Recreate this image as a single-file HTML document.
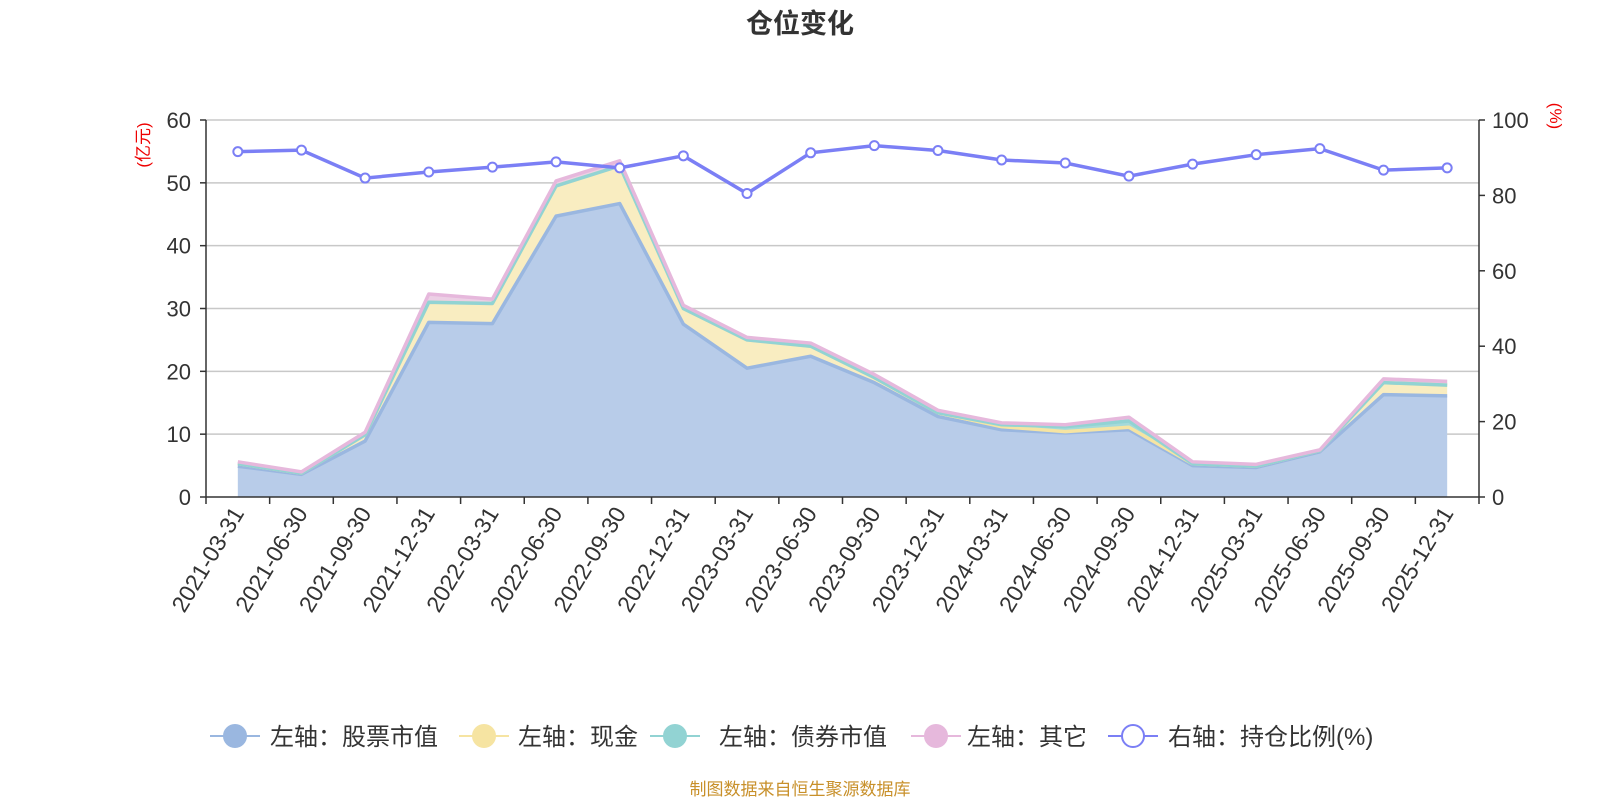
<!DOCTYPE html>
<html><head><meta charset="utf-8"><style>
body{margin:0;background:#fff;width:1600px;height:800px;overflow:hidden;font-family:"Liberation Sans","Noto Sans CJK SC",sans-serif}
</style></head><body>
<svg id="chart" width="1600" height="800" xmlns="http://www.w3.org/2000/svg" font-family="Liberation Sans, Noto Sans CJK SC, sans-serif">
<text x="800" y="33" text-anchor="middle" font-size="27" font-weight="bold" fill="#333">仓位变化</text>
<text transform="translate(149,145) rotate(-90)" text-anchor="middle" font-size="17" fill="#e00">(亿元)</text>
<text transform="translate(1550,116) rotate(90)" text-anchor="middle" font-size="17" fill="#e00">(%)</text>
<g id="grid"></g><g id="areas"></g><g id="arealines"></g><g id="axes"></g><g id="ratio"></g><g id="legend"></g>
<text x="800" y="795" text-anchor="middle" font-size="17" fill="#c8902a">制图数据来自恒生聚源数据库</text>
</svg>
<script>
const categories=["2021-03-31","2021-06-30","2021-09-30","2021-12-31","2022-03-31","2022-06-30","2022-09-30","2022-12-31","2023-03-31","2023-06-30","2023-09-30","2023-12-31","2024-03-31","2024-06-30","2024-09-30","2024-12-31","2025-03-31","2025-06-30","2025-09-30","2025-12-31"];
const stockValues=[4.9,3.6,8.9,27.8,27.6,44.7,46.7,27.5,20.5,22.4,18.2,12.8,10.7,10.2,10.7,5.0,4.7,7.2,16.3,16.1];
const cashValues=[0.4,0.2,1.0,3.2,3.2,4.8,6.0,2.5,4.5,1.6,0.8,0.6,0.5,0.2,0.4,0.3,0.2,0.2,1.9,1.7];
const bondValues=[0,0,0,0,0,0,0,0,0,0,0,0,0.3,0.8,1.0,0,0,0,0,0];
const otherValues=[0.3,0.2,0.4,1.3,0.7,0.8,0.8,0.5,0.4,0.5,0.5,0.4,0.3,0.3,0.6,0.3,0.3,0.1,0.6,0.6];
const ratioValues=[91.6,92.0,84.6,86.2,87.5,88.9,87.3,90.5,80.5,91.3,93.2,91.9,89.4,88.6,85.1,88.3,90.8,92.4,86.7,87.3];
const leftTicks=[0,10,20,30,40,50,60];
const rightTicks=[0,20,40,60,80,100];
const NS="http://www.w3.org/2000/svg";
const X0=206,X1=1479,Y0=497,Y1=120;
const bw=(X1-X0)/categories.length;
const xs=i=>X0+bw*(i+0.5);
const yL=v=>Y0-(v/60)*(Y0-Y1);
const yR=v=>Y0-(v/100)*(Y0-Y1);
function mk(tag,attrs,parent){const e=document.createElementNS(NS,tag);for(const k in attrs)e.setAttribute(k,attrs[k]);parent.appendChild(e);return e;}
const grid=document.getElementById('grid'),axes=document.getElementById('axes'),areas=document.getElementById('areas'),arealines=document.getElementById('arealines'),ratio=document.getElementById('ratio'),legend=document.getElementById('legend');
leftTicks.forEach(t=>{
  if(t>0){const g=mk('line',{x1:X0,x2:X1,y1:yL(t),y2:yL(t),stroke:'#c8c8c8','stroke-width':1.5},grid);
  
  }
  const l=mk('text',{x:X0-15,y:yL(t)+8,'text-anchor':'end','font-size':22,fill:'#333'},axes);l.textContent=t;
  
  
  mk('line',{x1:X0-6,x2:X0,y1:yL(t),y2:yL(t),stroke:'#333','stroke-width':1.5},axes);
});
rightTicks.forEach(t=>{
  const l=mk('text',{x:X1+13,y:yR(t)+8,'font-size':22,fill:'#333'},axes);l.textContent=t;
  
  
  mk('line',{x1:X1,x2:X1+6,y1:yR(t),y2:yR(t),stroke:'#333','stroke-width':1.5},axes);
});
const la=mk('line',{x1:X0,x2:X0,y1:Y1,y2:Y0,stroke:'#333','stroke-width':1.5},axes);


const ra=mk('line',{x1:X1,x2:X1,y1:Y1,y2:Y0,stroke:'#333','stroke-width':1.5},axes);


const xa=mk('line',{x1:X0,x2:X1,y1:Y0,y2:Y0,stroke:'#333','stroke-width':1.5},axes);


for(let i=0;i<=categories.length;i++){const x=X0+bw*i;mk('line',{x1:x,x2:x,y1:Y0,y2:Y0+7,stroke:'#333','stroke-width':1.5},axes);}
categories.forEach((c,i)=>{
  const x=xs(i)+7,y=Y0+16;
  const t=mk('text',{transform:`translate(${x},${y}) rotate(-59)`,'text-anchor':'end','font-size':23,fill:'#333'},axes);t.textContent=c;
  
  
});
const series=[[stockValues,'#b8cce9','#9ab7e0','stock-area'],[cashValues,'#f9edc1','#f6e4a2','cash-area'],[bondValues,'#a5dada','#92d3d3','bond-area'],[otherValues,'#ecd0e5','#e6b8dc','other-area']];
let base=categories.map(()=>0);
series.forEach(([vals,fill,stroke,name])=>{
  const top=base.map((b,i)=>b+vals[i]);
  let d='M'+top.map((v,i)=>xs(i)+','+yL(v)).join('L');
  for(let i=base.length-1;i>=0;i--)d+='L'+xs(i)+','+yL(base[i]);
  const p=mk('path',{d:d+'Z',fill:fill,stroke:'none'},areas);
  
  
  const ln=mk('polyline',{points:top.map((v,i)=>xs(i)+','+yL(v)).join(' '),fill:'none',stroke:stroke,'stroke-width':3.5,'stroke-linejoin':'round'},arealines);
  
  
  base=top;
});
const rl=mk('polyline',{points:ratioValues.map((v,i)=>xs(i)+','+yR(v)).join(' '),fill:'none',stroke:'#7b7ff5','stroke-width':3.5},ratio);


ratioValues.forEach((v,i)=>{
  const c=mk('circle',{cx:xs(i),cy:yR(v),r:4.5,fill:'#fff',stroke:'#7b7ff5','stroke-width':2},ratio);
  
  
});
const legendItems=[[235,270,'左轴：股票市值','#9ab7e0','#9ab7e0'],[484,518,'左轴：现金','#f6e4a2','#f6e4a2'],[675,719,'左轴：债券市值','#92d3d3','#92d3d3'],[936,967,'左轴：其它','#e6b8dc','#e6b8dc'],[1133,1168,'右轴：持仓比例(%)','#fff','#7b7ff5']];
legendItems.forEach(([cx,tx,label,fill,stroke])=>{
  const g=mk('g',{},legend);
  
  
  mk('line',{x1:cx-25,x2:cx+25,y1:736,y2:736,stroke:stroke,'stroke-width':2},g);
  mk('circle',{cx:cx,cy:736,r:11,fill:fill,stroke:stroke,'stroke-width':2},g);
  const t=mk('text',{x:tx,y:745,'font-size':24,fill:'#333'},g);t.textContent=label;
});
</script>
</body></html>
